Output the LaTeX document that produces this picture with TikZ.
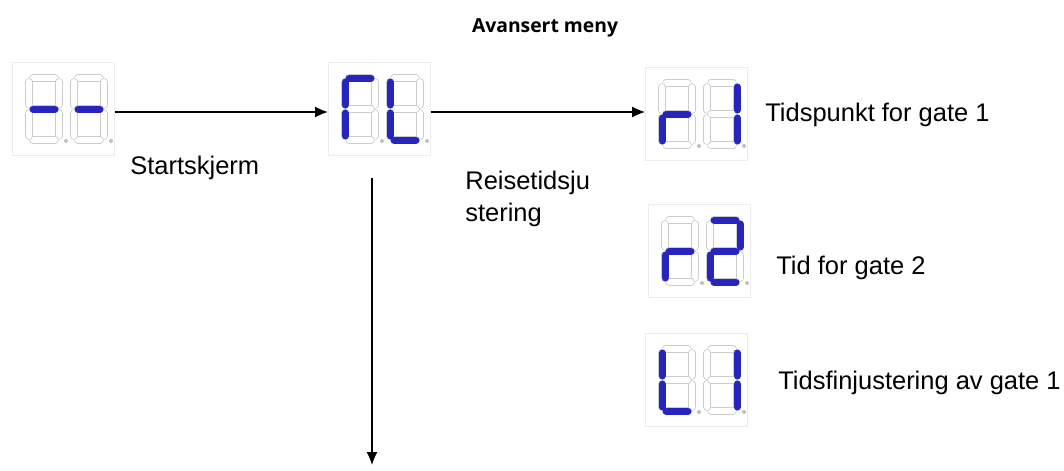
\documentclass[tikz,border=0pt]{standalone}
\usepackage{fontspec}
\setmainfont{Liberation Sans}
\newfontfamily\titlefont{Open Sans}
\usepackage{tikz}
\usetikzlibrary{arrows.meta}

% segments of one digit, in pixels from its top left corner
\def\sega{(4,0)--(26,0)}
\def\segb{(30,4)--(30,27)}
\def\segc{(30,35)--(30,58)}
\def\segd{(4,62)--(26,62)}
\def\sege{(0,35)--(0,58)}
\def\segf{(0,4)--(0,27)}
\def\segg{(4,31)--(26,31)}

\newcommand{\segdigit}[3]{%
  \begin{scope}[shift={(#1,#2)}]
    \foreach \s in {a,b,c,d,e,f,g}
      {\draw[line width=1.5mm, gray!40, line cap=round] \csname seg\s\endcsname;
       \draw[line width=1.2mm, white, line cap=round] \csname seg\s\endcsname;}
    \foreach \s in {#3}
      {\draw[line width=1.4mm, blue!70!black!85, line cap=round] \csname seg\s\endcsname;}
    \fill[gray!50] (37,63) circle (2);
  \end{scope}}

\newcommand{\segdisp}[2]{%
  \segdigit{\dx+17}{\dy+16}{#1}
  \segdigit{\dx+62}{\dy+16}{#2}}

\begin{document}
\begin{tikzpicture}[x=0.02cm, y=-0.02cm, font=\fontsize{14.5}{18}\selectfont,
    display/.style={draw=gray!15, minimum width=2.04cm, minimum height=1.86cm, anchor=north west, inner sep=0pt},
    label/.style={anchor=west, inner sep=0pt, align=left},
    arr/.style={-{Latex[length=2.6mm,width=2.2mm]}, line width=0.7pt}]
  \useasboundingbox (0,0) rectangle (1064,470);

  \node[font=\titlefont\bfseries\fontsize{11}{13}\selectfont] (title) at (545,28) {Avansert meny};

  \node[display] (start) at (12,62) {};
  \node[display] (rl) at (328,62) {};
  \node[display] (r1) at (645,67) {};
  \node[display] (r2) at (648,204) {};
  \node[display] (l1) at (645,333) {};

  \def\dx{12}\def\dy{62}\segdisp{g}{g}
  \def\dx{328}\def\dy{62}\segdisp{a,f,e}{f,e,d}
  \def\dx{645}\def\dy{67}\segdisp{g,e}{b,c}
  \def\dx{648}\def\dy{204}\segdisp{g,e}{a,b,g,e,d}
  \def\dx{645}\def\dy{333}\segdisp{f,e,d}{b,c}

  \coordinate (down) at (372,465);

  \draw[arr] (start.east |- 0,112) -- (rl.west |- 0,112);
  \draw[arr] (rl.east |- 0,112) -- (r1.west |- 0,112);
  \draw[arr] (372,178) -- (down);

  \node[label] (startlbl) at (130,168) {Startskjerm};
  \node[label] (rllbl) at (465,199) {Reisetidsju\\stering};
  \node[label] (r1lbl) at (765,115) {Tidspunkt for gate 1};
  \node[label] (r2lbl) at (776,268) {Tid for gate 2};
  \node[label] (l1lbl) at (778,383) {Tidsfinjustering av gate 1};
\end{tikzpicture}
\end{document}
